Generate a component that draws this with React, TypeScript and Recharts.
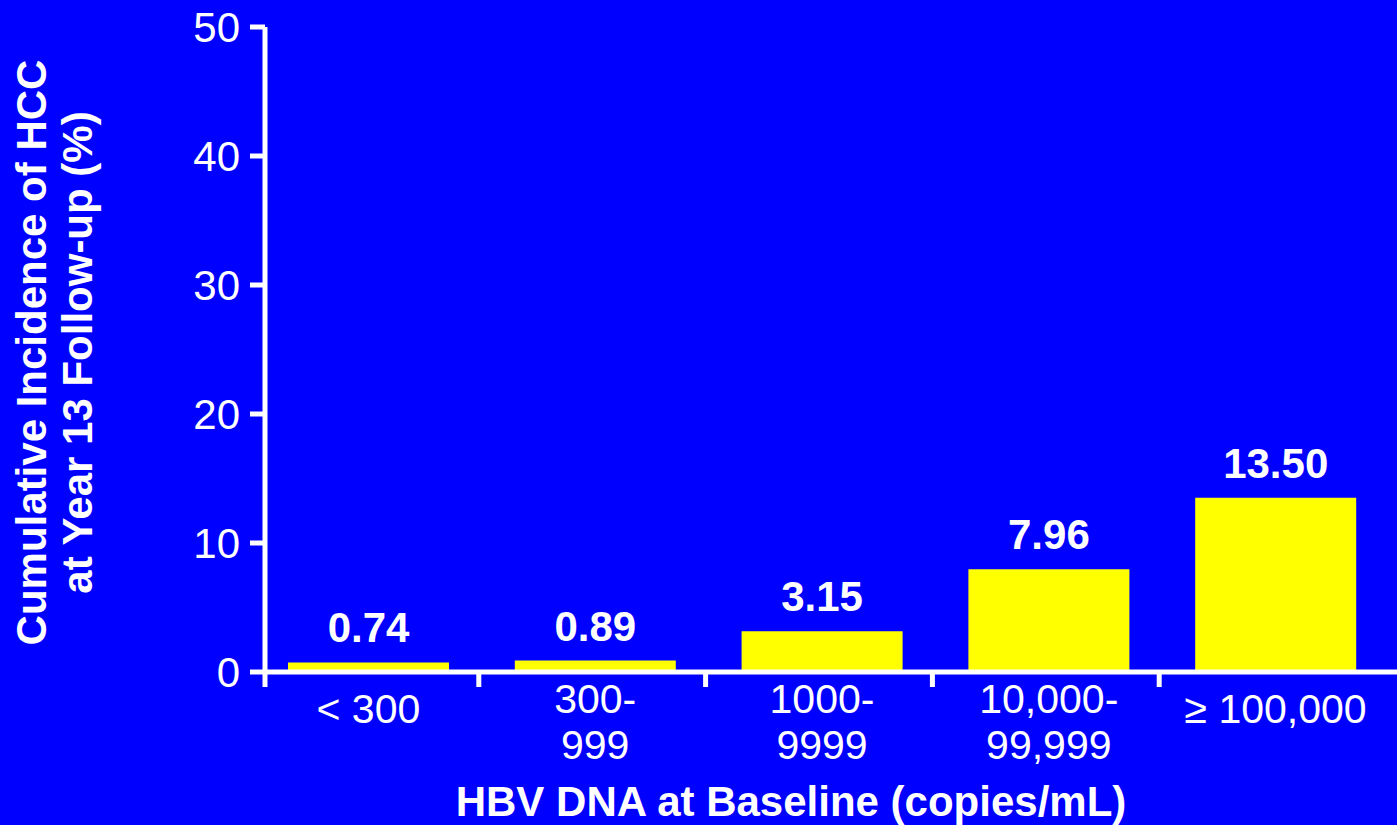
import { Bar, BarChart, LabelList, XAxis, YAxis } from "recharts";

const CATEGORIES = ["< 300", "300-\n999", "1000-\n9999", "10,000-\n99,999", "≥ 100,000"];
const INCIDENCE = [0.74, 0.89, 3.15, 7.96, 13.5];
const Y_TICKS = [0, 10, 20, 30, 40, 50];

const Y_TITLE = ["Cumulative Incidence of HCC", "at Year 13 Follow-up (%)"];
const X_TITLE = "HBV DNA at Baseline (copies/mL)";

const data = CATEGORIES.map((name, i) => ({ name, value: INCIDENCE[i] }));

const W = 1397;
const H = 825;
const PLOT_LEFT = 265;
const PLOT_TOP = 27;
const X_AXIS_H = 153;
const PAD_L = -10;
const PAD_R = 8;
const BAND = (W - PLOT_LEFT - PAD_L - PAD_R) / CATEGORIES.length;

const BLUE = "#0000FF";
const YELLOW = "#FFFF00";
const WHITE = "#FFFFFF";
const FONT = "'Liberation Sans', Arial, Helvetica, sans-serif";

function XTick(props: any) {
  const { x, y, payload, index } = props;
  const lines = String(payload.value).split("\n");
  // tick marks sit at the category boundaries, not at band centres
  const tx = index === 0 ? PLOT_LEFT : x - BAND / 2 - 3;
  const first = lines.length > 1 ? 41 : 51;
  return (
    <g>
      <line x1={tx} x2={tx} y1={y - 2} y2={y + 15} stroke={WHITE} strokeWidth={5} />
      {lines.map((l, i) => (
        <text key={i} x={x} y={y + first + i * 46} textAnchor="middle" fill={WHITE} fontSize={41}>
          {l}
        </text>
      ))}
    </g>
  );
}

function YTitle(props: any) {
  const { viewBox } = props;
  const cy = viewBox.y + viewBox.height / 2 + 3;
  return (
    <g fill={WHITE} fontSize={42} fontWeight="bold" textAnchor="middle">
      <text transform={`translate(46, ${cy}) rotate(-90)`}>{Y_TITLE[0]}</text>
      <text transform={`translate(92, ${cy}) rotate(-90)`}>{Y_TITLE[1]}</text>
    </g>
  );
}

function XTitle(props: any) {
  const { viewBox } = props;
  return (
    <text
      x={viewBox.x + viewBox.width / 2 - 40}
      y={viewBox.y + viewBox.height - 9}
      fill={WHITE}
      fontSize={42}
      fontWeight="bold"
      textAnchor="middle"
    >
      {X_TITLE}
    </text>
  );
}

export default function App() {
  return (
    <div
      style={{
        position: "absolute",
        left: 0,
        top: 0,
        width: W,
        height: H,
        background: BLUE,
        fontFamily: FONT,
      }}
    >
      <BarChart width={W} height={H} data={data} margin={{ top: PLOT_TOP, right: 0, left: 0, bottom: 0 }}>
        <XAxis
          dataKey="name"
          height={X_AXIS_H}
          padding={{ left: PAD_L, right: PAD_R }}
          axisLine={{ stroke: WHITE, strokeWidth: 5 }}
          tickLine={false}
          tickSize={0}
          tickMargin={0}
          interval={0}
          tick={<XTick />}
          label={<XTitle />}
        />
        <YAxis
          width={PLOT_LEFT}
          domain={[0, 50]}
          ticks={Y_TICKS}
          allowDataOverflow
          axisLine={{ stroke: WHITE, strokeWidth: 5 }}
          tickLine={{ stroke: WHITE, strokeWidth: 5 }}
          tickSize={15}
          tickMargin={10}
          tick={{ fill: WHITE, fontSize: 42 }}
          label={<YTitle />}
        />
        <Bar dataKey="value" fill={YELLOW} barSize={161} isAnimationActive={false}>
          <LabelList
            dataKey="value"
            position="top"
            offset={20}
            fill={WHITE}
            fontSize={42}
            fontWeight="bold"
            formatter={(v: any) => Number(v).toFixed(2)}
          />
        </Bar>
      </BarChart>
    </div>
  );
}
